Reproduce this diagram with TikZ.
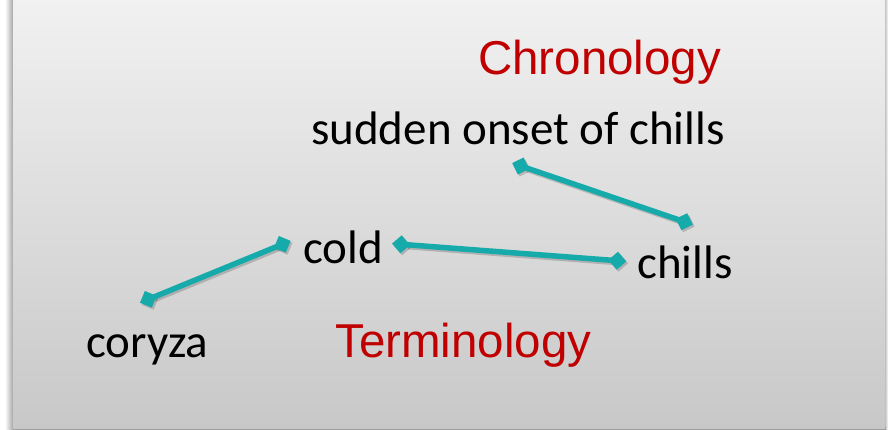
\documentclass[tikz,border=0pt]{standalone}
\usepackage{fontspec}
\setmainfont{Carlito}
\newfontfamily\redfont{Liberation Sans}
\usetikzlibrary{arrows.meta}
\definecolor{teal1}{RGB}{22,170,170}
\definecolor{darkred1}{RGB}{192,0,0}
\definecolor{paneltop}{RGB}{241,241,241}
\definecolor{panelbot}{RGB}{200,200,200}
\tikzset{
  blacktext/.style={anchor=base west,inner sep=0pt,text=black,font=\fontsize{47}{50}\selectfont},
  redtext/.style={anchor=base west,inner sep=0pt,text=darkred1,font=\redfont\fontsize{47.5}{50}\selectfont},
  link/.style={draw=teal1,line width=5.5pt,{Turned Square[length=18pt,width=18pt]}-{Turned Square[length=18pt,width=18pt]},shorten <=-9pt,shorten >=-9pt},
  linkshadow/.style={draw=black,opacity=0.18,line width=5.5pt,{Turned Square[length=18pt,width=18pt]}-{Turned Square[length=18pt,width=18pt]},shorten <=-9pt,shorten >=-9pt}
}
\begin{document}
\begin{tikzpicture}[x=1pt,y=-1pt]
\useasboundingbox (0,0) rectangle (888,430);
% background panel with shadows
\fill[white] (0,0) rectangle (888,430);
\shade[left color=white,right color=black!35] (5,0) rectangle (13,430);
\shade[left color=black!25,right color=white] (885,0) rectangle (888,430);
\fill[black!38] (13,427) rectangle (886,430);
\shade[top color=paneltop,bottom color=panelbot] (13,0) rectangle (885,428);
% texts
\node[redtext] (chron) at (478,75) {Chronology};
\node[redtext] (term) at (335,357) {Terminology};
\node[blacktext] (sudden) at (311,145) {sudden onset of chills};
\node[blacktext] (cold) at (303,263) {cold};
\node[blacktext] (chills) at (637,278) {chills};
\node[blacktext] (coryza) at (86,357) {coryza};
% connector end points
\coordinate (a1) at (520.7,166);
\coordinate (a2) at (684.3,221.7);
\coordinate (b1) at (148.3,299.3);
\coordinate (b2) at (282.3,244.3);
\coordinate (c1) at (401,244.3);
\coordinate (c2) at (617.3,260.7);
\coordinate (a1s) at (522.5,168);
\coordinate (a2s) at (686.1,223.7);
\coordinate (b1s) at (150.1,301.3);
\coordinate (b2s) at (284.1,246.3);
\coordinate (c1s) at (402.8,246.3);
\coordinate (c2s) at (619.1,262.7);
% shadows
\draw[linkshadow] (a1s) -- (a2s);
\draw[linkshadow] (b1s) -- (b2s);
\draw[linkshadow] (c1s) -- (c2s);
% connectors
\draw[link] (a1) -- (a2);
\draw[link] (b1) -- (b2);
\draw[link] (c1) -- (c2);
\end{tikzpicture}
\end{document}
